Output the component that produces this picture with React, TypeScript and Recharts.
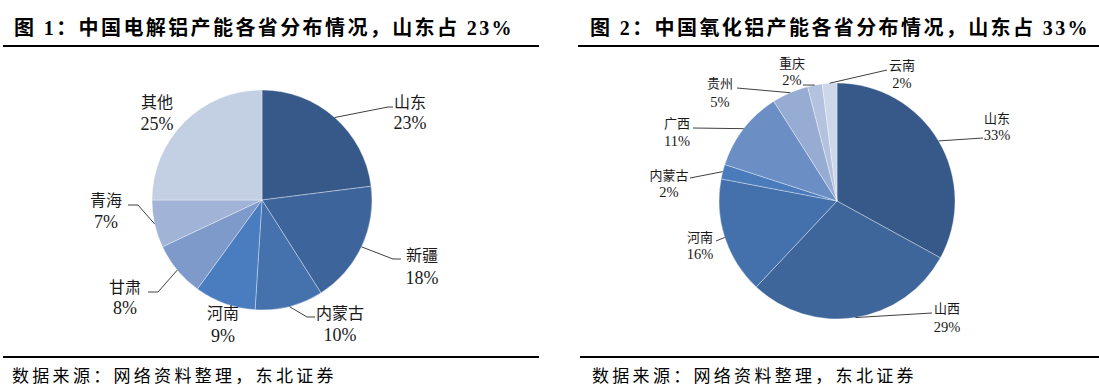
import React from 'react';
import { PieChart, Pie, Cell } from 'recharts';

// ---------- data ----------
const leftNames = ['山东', '新疆', '内蒙古', '河南', '甘肃', '青海', '其他'];
const leftValues = [23, 18, 10, 9, 8, 7, 25];
const rightNames = ['山东', '山西', '河南', '内蒙古', '广西', '贵州', '重庆', '云南'];
const rightValues = [33, 29, 16, 2, 11, 5, 2, 2];
const titleLeft = '图 1：中国电解铝产能各省分布情况，山东占 23%';
const titleRight = '图 2：中国氧化铝产能各省分布情况，山东占 33%';
const sourceText = '数据来源：网络资料整理，东北证券';

// ---------- styles ----------
const leftColors = ['#37598a', '#3e659b', '#4571ad', '#4a7dbf', '#7d9acb', '#a1b3d7', '#c3cfe3'];
const rightColors = ['#36598a', '#3e669b', '#4471ac', '#4a7bbb', '#6b8fc5', '#97acd3', '#b3c2de', '#cdd7ea'];

// label layout relative to pie centre: [labelX, nameY, pctY, elbow | null, end | null]
type LP = [number, number, number, [number, number] | null, [number, number] | null];
const leftLabelLayout: LP[] = [
  [148, -98, -77, [126, -93], [131, -93]],
  [160, 55, 78, [131, 59], [139, 59]],
  [78, 113, 135, [45, 117], [53, 117]],
  [-39, 113, 136, null, null],
  [-137, 87, 108, [-104, 92], [-114, 92]],
  [-156, 0, 22, [-124, 5], [-134, 5]],
  [-105, -98, -76, null, null],
];
const rightLabelLayout: LP[] = [
  [160, -83, -66, null, [146, -63]],
  [110, 107, 126, null, [95, 112]],
  [-137, 36, 53, null, [-121, 40]],
  [-168, -26, -9, null, [-147, -23]],
  [-160, -78, -60, null, [-144, -73]],
  [-117, -118, -99, null, [-100, -113]],
  [-45, -138, -121, null, [-34, -116]],
  [65, -136, -118, null, [50, -131]],
];

const FONT = "'Liberation Serif', 'Noto Sans CJK SC', serif";
const RAD = Math.PI / 180;
const NO_MARGIN = { top: 0, right: 0, bottom: 0, left: 0 };

const makeLabel = (layout: LP[], nameSize: number, pctSize: number) => (props: any) => {
  const { cx, cy, midAngle, outerRadius, index, name, value } = props;
  const [lx, ny, py, elbow, end] = layout[index];
  const sx = cx + outerRadius * Math.cos(-midAngle * RAD);
  const sy = cy + outerRadius * Math.sin(-midAngle * RAD);
  const pts: string[] = [`${sx},${sy}`];
  if (elbow) pts.push(`${cx + elbow[0]},${cy + elbow[1]}`);
  if (end) pts.push(`${cx + end[0]},${cy + end[1]}`);
  return (
    <g key={`lbl-${index}`}>
      {end && <polyline points={pts.join(' ')} fill="none" stroke="#404040" strokeWidth={1} />}
      <text x={cx + lx} y={cy + ny} textAnchor="middle" dominantBaseline="central" fontSize={nameSize} fontFamily={FONT} fill="#1a1a1a">
        {name}
      </text>
      <text x={cx + lx} y={cy + py} textAnchor="middle" dominantBaseline="central" fontSize={pctSize} fontFamily={FONT} fill="#1a1a1a">
        {`${value}%`}
      </text>
    </g>
  );
};

const leftData = leftNames.map((n, i) => ({ name: n, value: leftValues[i] }));
const rightData = rightNames.map((n, i) => ({ name: n, value: rightValues[i] }));

const titleStyle: React.CSSProperties = {
  position: 'absolute',
  top: 14,
  fontFamily: FONT,
  fontWeight: 'bold',
  fontSize: 20,
  letterSpacing: 2.4,
  color: '#000',
  whiteSpace: 'nowrap',
  lineHeight: '28px',
};
const sourceStyle: React.CSSProperties = {
  position: 'absolute',
  top: 363,
  fontFamily: "'Noto Sans CJK SC', sans-serif",
  fontSize: 17,
  letterSpacing: 3.3,
  color: '#000',
  whiteSpace: 'nowrap',
  lineHeight: '24px',
};
const rule = (left: number, width: number, top: number): React.CSSProperties => ({
  position: 'absolute',
  left,
  width,
  top,
  height: 2,
  background: '#000',
});

export default function App() {
  return (
    <div style={{ position: 'relative', width: 1099, height: 389, background: '#fff', overflow: 'hidden' }}>
      <style>{`body{margin:0;}`}</style>
      <div style={{ position: 'absolute', left: 0, top: 0 }}>
        <PieChart width={549} height={389} margin={NO_MARGIN}>
          <Pie
            data={leftData}
            dataKey="value"
            nameKey="name"
            cx={262}
            cy={200}
            outerRadius={110}
            startAngle={90}
            endAngle={-270}
            stroke="rgba(255,255,255,0.35)"
            strokeWidth={1}
            isAnimationActive={false}
            labelLine={false}
            label={makeLabel(leftLabelLayout, 16, 18)}
          >
            {leftData.map((d, i) => (
              <Cell key={d.name} fill={leftColors[i]} />
            ))}
          </Pie>
        </PieChart>
      </div>
      <div style={{ position: 'absolute', left: 550, top: 0 }}>
        <PieChart width={549} height={389} margin={NO_MARGIN}>
          <Pie
            data={rightData}
            dataKey="value"
            nameKey="name"
            cx={287}
            cy={201}
            outerRadius={118}
            startAngle={90}
            endAngle={-270}
            stroke="rgba(255,255,255,0.35)"
            strokeWidth={1}
            isAnimationActive={false}
            labelLine={false}
            label={makeLabel(rightLabelLayout, 13, 14.5)}
          >
            {rightData.map((d, i) => (
              <Cell key={d.name} fill={rightColors[i]} />
            ))}
          </Pie>
        </PieChart>
      </div>

      <div style={{ ...titleStyle, left: 14 }}>{titleLeft}</div>
      <div style={{ ...titleStyle, left: 590 }}>{titleRight}</div>
      <div style={rule(3, 536, 45)} />
      <div style={rule(578, 521, 45)} />

      <div style={rule(3, 536, 356)} />
      <div style={rule(580, 519, 356)} />
      <div style={{ ...sourceStyle, left: 12 }}>{sourceText}</div>
      <div style={{ ...sourceStyle, left: 592 }}>{sourceText}</div>
    </div>
  );
}
